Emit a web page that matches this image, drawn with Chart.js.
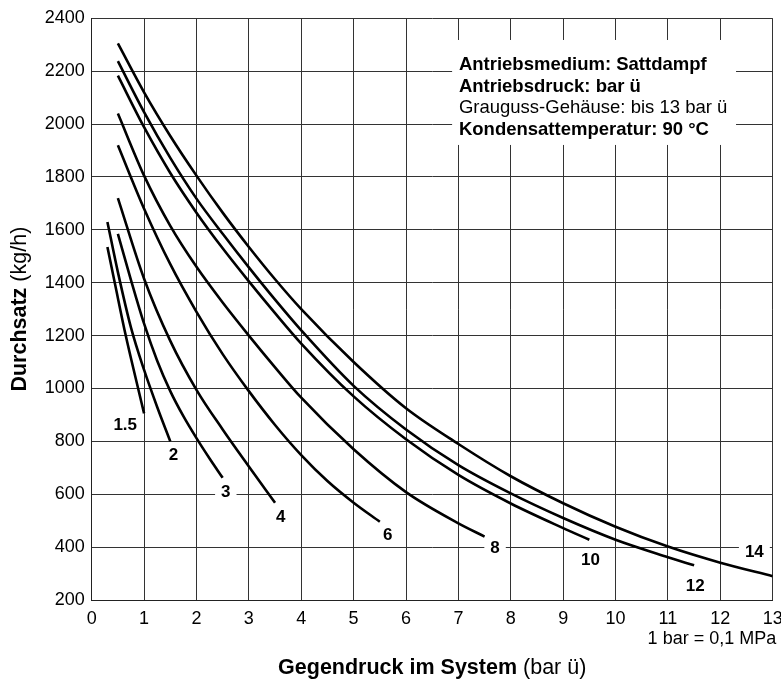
<!DOCTYPE html>
<html><head><meta charset="utf-8">
<script src="https://cdn.jsdelivr.net/npm/chart.js@4/dist/chart.umd.min.js"></script>
<style>html,body{margin:0;padding:0;background:#fff;overflow:hidden}#wrap{width:800px;height:679px;position:absolute;left:0;top:0}</style>
</head><body><div id="wrap"><canvas id="c" width="800" height="679"></canvas></div>
<script>
// ---- data (Antriebsdruck curves, bar ü) ----
const curveNames = ['1.5','2','3','4','6','8','10','12','14'];
const press_1_5 = [0.3,0.45,0.65,0.85,1.0];
const flow_1_5  = [1535,1390,1200,1030,906];
const press_2 = [0.3,0.5,0.75,1.0,1.25,1.5];
const flow_2  = [1630,1440,1230,1070,930,800];
const press_3 = [0.5,0.75,1.0,1.25,1.5,1.75,2.0,2.25,2.5];
const flow_3  = [1585,1410,1245,1105,990,895,812,735,662];
const press_4 = [0.5,1.0,1.5,2.0,2.5,3.0,3.5];
const flow_4  = [1720,1415,1180,995,845,705,568];
const press_6 = [0.5,1.0,1.5,2.0,2.5,3.0,3.5,4.0,4.5,5.0,5.5];
const flow_6  = [1920,1680,1470,1290,1130,990,862,748,650,568,496];
const press_8 = [0.5,1,1.5,2,2.5,3,3.5,4,5,6,7,7.5];
const flow_8  = [2040,1805,1615,1460,1325,1200,1080,965,770,608,490,440];
const press_10 = [0.5,1,1.5,2,2.5,3,3.5,4,5,6,7,8,9,9.5];
const flow_10  = [2183,1988,1815,1665,1530,1405,1285,1170,970,808,673,565,472,428];
const press_12 = [0.5,1,1.5,2,2.5,3,3.5,4,5,6,7,8,9,10,11,11.5];
const flow_12  = [2238,2045,1872,1718,1585,1458,1336,1220,1010,845,710,603,510,428,362,331];
const press_14 = [0.5,1,1.5,2,2.5,3,3.5,4,5,6,7,8,9,10,11,12,13];
const flow_14  = [2305,2120,1955,1805,1665,1535,1413,1300,1100,925,790,668,566,477,402,341,290];
// curve label anchors (data coords)
const labelX = [0.64,1.56,2.56,3.61,5.65,7.70,9.52,11.52,12.65];
const labelY = [866,752,610,515,450,399,354,257,383];
// axes
const xMin = 0, xMax = 13, xStep = 1;
const yMin = 200, yMax = 2400, yStep = 200;
const infoLines = [
  {t:'Antriebsmedium: Sattdampf', b:true},
  {t:'Antriebsdruck: bar ü', b:true},
  {t:'Grauguss-Gehäuse: bis 13 bar ü', b:false},
  {t:'Kondensattemperatur: 90 °C', b:true}
];

const pressArrs = [press_1_5,press_2,press_3,press_4,press_6,press_8,press_10,press_12,press_14];
const flowArrs  = [flow_1_5,flow_2,flow_3,flow_4,flow_6,flow_8,flow_10,flow_12,flow_14];

const FONT = '"Liberation Sans", Arial, Helvetica, sans-serif';
const datasets = curveNames.map((n,i)=>({
  label: n,
  data: pressArrs[i].map((p,j)=>({x:p, y:flowArrs[i][j]})),
  showLine: true,
  borderColor: '#000',
  borderWidth: 2.6,
  pointRadius: 0,
  fill: false,
  cubicInterpolationMode: 'monotone'
}));

const overlay = {
  id: 'overlay',
  afterDatasetsDraw(chart){
    const ctx = chart.ctx;
    const xs = chart.scales.x, ys = chart.scales.y;
    ctx.save();
    // info box
    const bx0 = xs.getPixelForValue(6.88), bx1 = xs.getPixelForValue(12.3);
    const by0 = ys.getPixelForValue(2318), by1 = ys.getPixelForValue(1921);
    ctx.fillStyle = '#fff';
    ctx.fillRect(bx0, by0, bx1-bx0, by1-by0);
    ctx.fillStyle = '#000';
    ctx.textAlign = 'left';
    ctx.textBaseline = 'alphabetic';
    const tx = xs.getPixelForValue(7.01);
    infoLines.forEach((l,i)=>{
      ctx.font = (l.b?'bold ':'') + '18.5px ' + FONT;
      ctx.fillText(l.t, tx, by0 + 30.5 + i*21.4);
    });
    // curve labels
    ctx.font = 'bold 17px ' + FONT;
    ctx.textAlign = 'center';
    ctx.textBaseline = 'middle';
    curveNames.forEach((n,i)=>{
      const px = xs.getPixelForValue(labelX[i]), py = ys.getPixelForValue(labelY[i]);
      const w = ctx.measureText(n).width;
      ctx.fillStyle = '#fff';
      ctx.fillRect(px - w/2 - 6, py - 8, w + 12, 16);
      ctx.fillStyle = '#000';
      ctx.fillText(n, px, py + 1);
    });
    // unit note
    ctx.font = '18px ' + FONT;
    ctx.textAlign = 'right';
    ctx.textBaseline = 'alphabetic';
    ctx.fillText('1 bar = 0,1 MPa', xs.right + 3.5, 644);
    // x title
    const xb = 'Gegendruck im System', xr = ' (bar ü)';
    ctx.font = 'bold 21.5px ' + FONT; const w1 = ctx.measureText(xb).width;
    ctx.font = '21.5px ' + FONT; const w2 = ctx.measureText(xr).width;
    const cx = (xs.left + xs.right)/2;
    ctx.textAlign = 'left';
    ctx.font = 'bold 21.5px ' + FONT; ctx.fillText(xb, cx - (w1+w2)/2, 674);
    ctx.font = '21.5px ' + FONT; ctx.fillText(xr, cx - (w1+w2)/2 + w1, 674);
    // y title
    const yb = 'Durchsatz', yr = ' (kg/h)';
    ctx.font = 'bold 21.5px ' + FONT; const v1 = ctx.measureText(yb).width;
    ctx.font = '21.5px ' + FONT; const v2 = ctx.measureText(yr).width;
    const cy = (ys.top + ys.bottom)/2;
    ctx.translate(26, cy);
    ctx.rotate(-Math.PI/2);
    ctx.font = 'bold 21.5px ' + FONT; ctx.fillText(yb, -(v1+v2)/2, 0);
    ctx.font = '21.5px ' + FONT; ctx.fillText(yr, -(v1+v2)/2 + v1, 0);
    ctx.restore();
  }
};

new Chart(document.getElementById('c'), {
  type: 'scatter',
  data: { datasets },
  options: {
    responsive: false,
    animation: false,
    devicePixelRatio: 1,
    layout: { padding: { top: 18.3, right: 27.3, bottom: 0, left: 0 } },
    plugins: { legend: { display: false }, tooltip: { enabled: false } },
    scales: {
      x: {
        type: 'linear', min: xMin, max: xMax,
        ticks: { stepSize: xStep, color: '#000', padding: 8, font: { family: FONT, size: 18 },
                 callback: v => String(v) },
        grid: { color: '#333', lineWidth: 1, drawTicks: false },
        border: { color: '#222', width: 1 },
        afterFit(s){ s.height = 79; }
      },
      y: {
        type: 'linear', min: yMin, max: yMax,
        ticks: { stepSize: yStep, color: '#000', padding: 7, font: { family: FONT, size: 18 },
                 callback: v => String(v) },
        grid: { color: '#333', lineWidth: 1, drawTicks: false },
        border: { color: '#222', width: 1 },
        afterFit(s){ s.width = 91.7; }
      }
    }
  },
  plugins: [overlay]
});
</script></body></html>
